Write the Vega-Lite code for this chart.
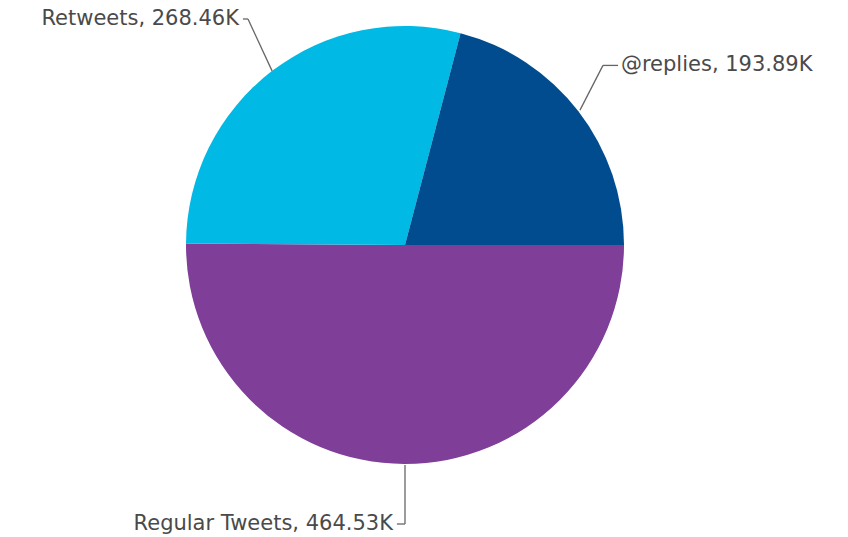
{
  "$schema": "https://vega.github.io/schema/vega-lite/v6.json",
  "width": 810,
  "height": 490,
  "autosize": {"type": "none"},
  "padding": {"left": 0, "top": 0, "right": 38, "bottom": 47},
  "background": "white",
  "config": {"view": {"stroke": null}},
  "data": {
    "values": [
      {"category": "Regular Tweets", "value": 464.53, "side": "left", "ex": 0, "ey": -1.005, "bx": 0, "by": -1.274, "hx": -0.037, "hy": -1.274, "lx": -0.055, "ly": -1.274},
      {"category": "Retweets", "value": 268.46, "side": "left", "ex": -0.607, "ey": 0.795, "bx": -0.717, "by": 1.032, "hx": -0.74, "hy": 1.032, "lx": -0.758, "ly": 1.032},
      {"category": "@replies", "value": 193.89, "side": "right", "ex": 0.799, "ey": 0.616, "bx": 0.904, "by": 0.82, "hx": 0.973, "hy": 0.82, "lx": 0.986, "ly": 0.82}
    ]
  },
  "layer": [
    {
      "mark": {"type": "arc", "outerRadius": 219},
      "encoding": {
        "theta": {"field": "value", "type": "quantitative", "stack": true, "scale": {"range": [1.5707963, 7.8539816]}},
        "order": {"field": "value", "type": "quantitative", "sort": "descending"},
        "color": {
          "field": "category", "type": "nominal",
          "scale": {"domain": ["@replies", "Retweets", "Regular Tweets"], "range": ["#004c8e", "#00b9e4", "#7f3e98"]},
          "legend": null
        }
      }
    },
    {
      "mark": {"type": "rule", "color": "#666666", "strokeWidth": 1.3},
      "encoding": {
        "x": {"field": "ex", "type": "quantitative", "scale": {"domain": [-1.8493, 1.8493], "nice": false, "zero": false}, "axis": null},
        "y": {"field": "ey", "type": "quantitative", "scale": {"domain": [-1.1187, 1.1187], "nice": false, "zero": false}, "axis": null},
        "x2": {"field": "bx"},
        "y2": {"field": "by"}
      }
    },
    {
      "mark": {"type": "rule", "color": "#666666", "strokeWidth": 1.3},
      "encoding": {
        "x": {"field": "bx", "type": "quantitative"},
        "y": {"field": "by", "type": "quantitative"},
        "x2": {"field": "hx"},
        "y2": {"field": "hy"}
      }
    },
    {
      "transform": [
        {"filter": "datum.side == 'left'"},
        {"calculate": "datum.category + ', ' + format(datum.value, '.2f') + 'K'", "as": "label"}
      ],
      "mark": {"type": "text", "align": "right", "baseline": "middle", "font": "DejaVu Sans", "fontSize": 21, "color": "#4a4a4a"},
      "encoding": {
        "x": {"field": "lx", "type": "quantitative"},
        "y": {"field": "ly", "type": "quantitative"},
        "text": {"field": "label"}
      }
    },
    {
      "transform": [
        {"filter": "datum.side == 'right'"},
        {"calculate": "datum.category + ', ' + format(datum.value, '.2f') + 'K'", "as": "label"}
      ],
      "mark": {"type": "text", "align": "left", "baseline": "middle", "font": "DejaVu Sans", "fontSize": 21, "color": "#4a4a4a"},
      "encoding": {
        "x": {"field": "lx", "type": "quantitative"},
        "y": {"field": "ly", "type": "quantitative"},
        "text": {"field": "label"}
      }
    }
  ]
}
